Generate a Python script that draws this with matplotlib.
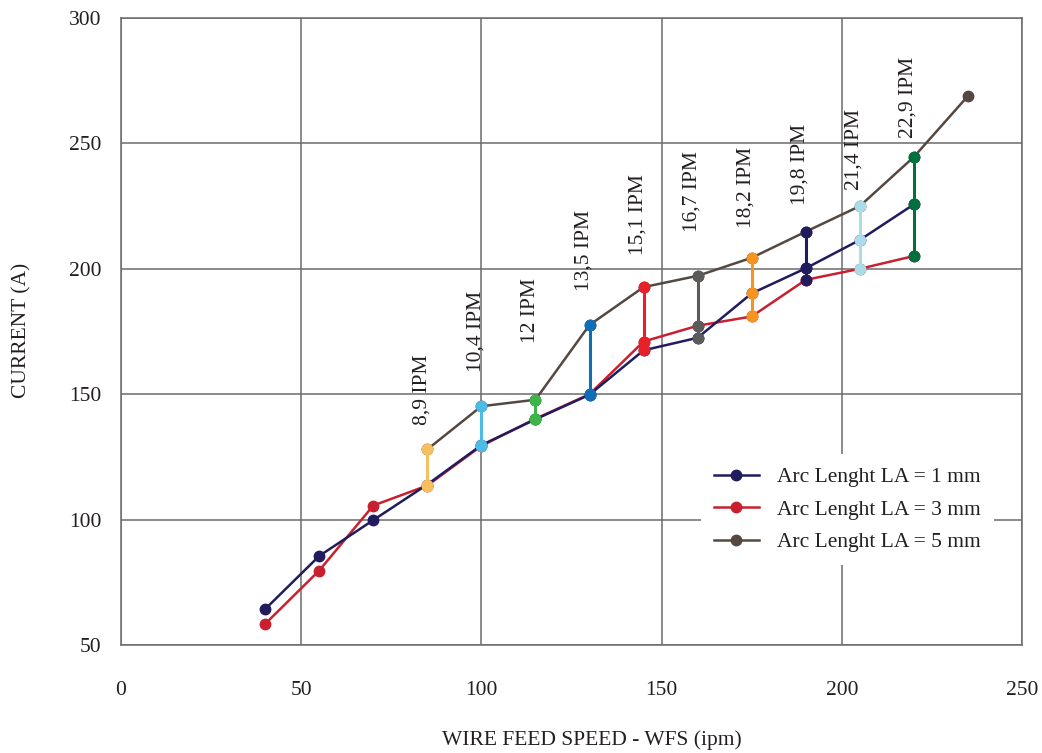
import matplotlib
matplotlib.use("Agg")
import matplotlib.pyplot as plt

# ---- data ----
wfs_la1 = [40, 55, 70, 85, 100, 115, 130, 145, 160, 175, 190, 205, 220]
cur_la1 = [64.3, 85.5, 99.8, 114.0, 129.7, 140.0, 149.8, 167.5, 172.5, 190.2, 200.2, 211.5, 225.7]

wfs_la3 = [40, 55, 70, 85, 100, 115, 130, 145, 160, 175, 190, 205, 220]
cur_la3 = [58.4, 79.7, 105.6, 113.6, 129.4, 140.2, 150.0, 171.0, 177.3, 181.0, 195.6, 200.0, 205.1]

wfs_la5 = [85, 100, 115, 130, 145, 160, 175, 190, 205, 220, 235]
cur_la5 = [128.0, 145.2, 147.8, 177.6, 192.7, 197.2, 204.4, 214.8, 225.0, 244.6, 268.9]

series_labels = ["Arc Lenght LA = 1 mm", "Arc Lenght LA = 3 mm", "Arc Lenght LA = 5 mm"]
series_colors = ["#201c5e", "#c8202f", "#544841"]

ipm_wfs = [85, 100, 115, 130, 145, 160, 175, 190, 205, 220]
ipm_labels = ["8,9 IPM", "10,4 IPM", "12 IPM", "13,5 IPM", "15,1 IPM",
              "16,7 IPM", "18,2 IPM", "19,8 IPM", "21,4 IPM", "22,9 IPM"]
ipm_colors = ["#f8bf5e", "#4dbbe6", "#3db54a", "#0f6fb6", "#e8202a",
              "#5b5b5b", "#f7941d", "#201c5e", "#acdbea", "#00703c"]
ipm_label_y = [137.7, 158.9, 170.4, 191.1, 205.5, 214.7, 216.3, 225.4, 231.4, 252.2]

x_ticks = [0, 50, 100, 150, 200, 250]
y_ticks = [50, 100, 150, 200, 250, 300]

plt.rcParams['font.family'] = ['Liberation Serif', 'DejaVu Serif']
FS = 15.5

fig = plt.figure(figsize=(10.42, 7.53), dpi=100)
ax = fig.add_axes([0.1161, 0.1434, 0.8647, 0.8327])

ax.set_xlim(0, 250)
ax.set_ylim(50, 300)
ax.set_xticks(x_ticks)
ax.set_yticks(y_ticks)
ax.tick_params(length=0, labelsize=FS, colors="#231f20")
ax.tick_params(axis='x', pad=26)
ax.tick_params(axis='y', pad=14)
ax.grid(True, color="#6b6b6b", linewidth=1.1)
ax.set_axisbelow(True)
for s in ax.spines.values():
    s.set_color("#6b6b6b")
    s.set_linewidth(1.1)

lw = 1.8
ms = 7.5
h5, = ax.plot(wfs_la5, cur_la5, '-o', color=series_colors[2], lw=lw, ms=ms, zorder=2, label=series_labels[2])
h3, = ax.plot(wfs_la3, cur_la3, '-o', color=series_colors[1], lw=lw, ms=ms, zorder=3, label=series_labels[1])
h1, = ax.plot(wfs_la1, cur_la1, '-o', color=series_colors[0], lw=lw, ms=ms, zorder=4, label=series_labels[0])

for i, xw in enumerate(ipm_wfs):
    vals = []
    for xs, ys in ((wfs_la1, cur_la1), (wfs_la3, cur_la3), (wfs_la5, cur_la5)):
        if xw in xs:
            vals.append(ys[xs.index(xw)])
    ax.plot([xw] * len(vals), sorted(vals), '-o', color=ipm_colors[i], lw=2.2, ms=ms, zorder=5)
    ax.text(xw - 1.5, ipm_label_y[i], ipm_labels[i], rotation=90, ha='center', va='bottom',
            fontsize=FS, color="#231f20", zorder=6)

leg = ax.legend(handles=[h1, h3, h5], loc='center', bbox_to_anchor=(0.806, 0.216),
                fontsize=FS, frameon=True, fancybox=False, edgecolor='white',
                framealpha=1.0, handlelength=2.1, labelspacing=0.58, borderpad=0.6,
                handletextpad=0.85)
leg.get_frame().set_linewidth(0)
for t in leg.get_texts():
    t.set_color("#231f20")

ax.set_xlabel("WIRE FEED SPEED - WFS (ipm)", fontsize=FS, color="#231f20")
ax.set_ylabel("CURRENT (A)", fontsize=FS, color="#231f20")
ax.xaxis.set_label_coords((592 - 121) / 901, -(740 - 645) / 627)
ax.yaxis.set_label_coords(-(121 - 22) / 901, (645 - 330) / 627)
ax.xaxis.label.set_va('center')
ax.yaxis.label.set_va('center')

fig.savefig("out.png", dpi=100)
